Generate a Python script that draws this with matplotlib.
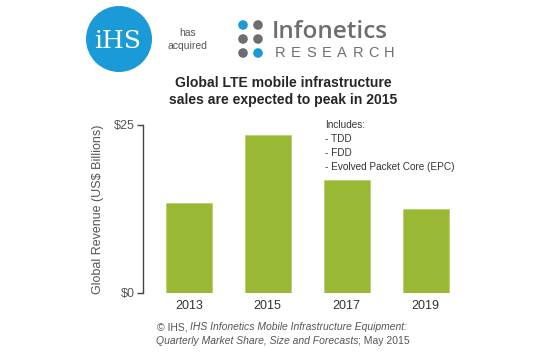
import matplotlib
matplotlib.use("Agg")
import matplotlib.pyplot as plt
from matplotlib.patches import Circle

plt.rcParams['font.family'] = ['Liberation Sans', 'DejaVu Sans']

years = ['2013', '2015', '2017', '2019']
revenue = [13.4, 23.5, 16.8, 12.5]
ytick_vals = [0, 25]
ytick_labels = ['$0', '$25']
includes = ['Includes:', '- TDD', '- FDD', '- Evolved Packet Core (EPC)']

W, H = 536, 357
bar_green = '#99b934'
gray_txt = '#555555'
ihs_blue = '#1a9bd7'
info_gray = '#6d6e71'

fig = plt.figure(figsize=(W / 100, H / 100), dpi=100)
fig.patch.set_facecolor('white')

# pixel overlay for logos and text
bg = fig.add_axes([0, 0, 1, 1])
bg.set_xlim(0, W)
bg.set_ylim(H, 0)
bg.axis('off')

# IHS logo
bg.add_patch(Circle((119, 39), 33, color=ihs_blue, lw=0))
bg.text(118, 41, 'iHS', color='white', fontsize=18, ha='center', va='center',
        family=['DejaVu Serif'])
bg.text(188, 33, 'has', color=gray_txt, fontsize=7.5, ha='center', va='center')
bg.text(188, 46, 'acquired', color=gray_txt, fontsize=7.5, ha='center', va='center')

# Infonetics logo
dot_cols = [[ihs_blue, info_gray], [info_gray, info_gray], [info_gray, ihs_blue]]
for r, row in enumerate(dot_cols):
    for c, col in enumerate(row):
        bg.add_patch(Circle((243 + 15 * c, 25 + 14 * r), 4.8, color=col, lw=0))
bg.text(272, 38.5, 'Infonetics', color=info_gray, fontsize=17.5, ha='left',
        va='baseline', family=['Open Sans'], fontweight='semibold')
for i, ch in enumerate('RESEARCH'):
    bg.text(275 + i * 15.6, 57, ch, color=info_gray, fontsize=10.5, ha='left',
            va='baseline')

# title
bg.text(283, 83, 'Global LTE mobile infrastructure', fontsize=10.1, fontweight='bold',
        ha='center', va='center', color='#262626')
bg.text(283, 100, 'sales are expected to peak in 2015', fontsize=10.1, fontweight='bold',
        ha='center', va='center', color='#262626')

# footer (mixed italic)
t1 = bg.text(157, 327, '\u00a9 IHS, ', fontsize=7.5, color=gray_txt, va='center')
bg.annotate('IHS Infonetics Mobile Infrastructure Equipment:', xy=(1, 0.5),
            xycoords=t1, va='center', fontsize=7.5, color=gray_txt, style='italic')
t2 = bg.text(156, 341, 'Quarterly Market Share, Size and Forecasts', fontsize=7.5,
             color=gray_txt, va='center', style='italic')
bg.annotate('; May 2015', xy=(1, 0.5), xycoords=t2, va='center', fontsize=7.5,
            color=gray_txt)

# bar chart
left, right, top, bottom = 143, 473, 125, 293
ax = fig.add_axes([left / W, 1 - bottom / H, (right - left) / W, (bottom - top) / H])
ax.set_facecolor('none')
x = list(range(len(years)))
ax.bar(x, revenue, width=0.58, color=bar_green, edgecolor='#b8d06c', linewidth=0.6)
ax.set_xlim(-0.58, 3.6)
ax.set_ylim(0, 25)
for s in ['top', 'right', 'bottom']:
    ax.spines[s].set_visible(False)
ax.spines['left'].set_color('#444444')
ax.spines['left'].set_linewidth(1.0)
ax.set_yticks(ytick_vals)
ax.set_yticklabels(ytick_labels)
ax.set_xticks(x)
ax.set_xticklabels(years)
ax.tick_params(axis='y', length=4, width=1.0, color='#444444', labelsize=9,
               labelcolor=gray_txt, pad=2)
ax.tick_params(axis='x', length=0, labelsize=9, labelcolor='#333333', pad=5)
ax.set_ylabel('Global Revenue (US$ Billions)', fontsize=9, color=gray_txt, labelpad=7)

for i, line in enumerate(includes):
    bg.text(325, 125 + 14 * i, line, fontsize=7.2, color='#333333', va='center')

fig.savefig('out.png', dpi=100, facecolor='white')
